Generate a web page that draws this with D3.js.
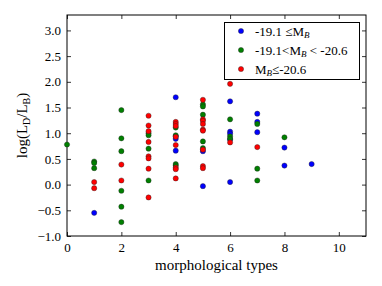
<!DOCTYPE html>
<html><head><meta charset="utf-8">
<script src="https://cdn.jsdelivr.net/npm/d3@7"></script>
<style>body{margin:0;background:#fff}svg{display:block}text{font-family:"Liberation Serif","DejaVu Serif",serif}</style>
</head><body>
<script>
// morphological type, log(LD/LB)
const blueX = [1,4,4,4,4,5,5,6,6,6,6,6,7,7,7,8,8,9];
const blueY = [-0.55,1.70,0.94,0.89,0.66,0.65,-0.03,1.62,1.03,0.99,0.88,0.05,1.38,1.22,1.02,0.72,0.37,0.40];
const greenX = [0,1,1,1,2,2,2,2,2,2,3,3,3,3,4,4,4,4,5,5,5,5,5,6,6,6,7,7,7,8];
const greenY = [0.78,0.45,0.42,0.32,1.45,0.90,0.65,-0.12,-0.43,-0.73,1.00,0.96,0.70,0.08,1.11,0.96,0.40,0.37,1.56,1.52,1.36,0.84,0.71,1.27,0.94,0.89,1.18,0.31,0.08,0.92];
const redX = [1,1,2,2,3,3,3,3,3,3,3,3,4,4,4,4,4,4,4,4,5,5,5,5,5,5,5,5,5,6,6,7];
const redY = [0.05,-0.07,0.39,0.08,1.34,1.15,1.04,0.83,0.55,0.51,0.31,-0.25,1.22,1.18,1.14,0.93,0.77,0.33,0.30,0.12,1.65,1.27,1.24,1.18,1.07,1.05,0.68,0.36,0.32,1.96,0.82,0.73];
const xTicks = [0,2,4,6,8,10];
const yTicks = [-1.0,-0.5,0.0,0.5,1.0,1.5,2.0,2.5,3.0];
const xDomain = [0,11];
const yDomain = [-1.0,3.3];
const seriesNames = ["blue","green","red"];
const seriesColors = ["#0000ff","#008000","#ff0000"];

const W=382,H=286;
const L=67,R=366,T=15,B=236;
const svg=d3.select("body").append("svg").attr("width",W).attr("height",H);
const x=d3.scaleLinear().domain(xDomain).range([L,R]);
const y=d3.scaleLinear().domain(yDomain).range([B,T]);
const fmt=v=>(v<0?"\u2212":"")+Math.abs(v).toFixed(1);

// axes with inward ticks
const gB=svg.append("g").attr("transform",`translate(0,${B})`).call(d3.axisBottom(x).tickValues(xTicks).tickSizeInner(-4).tickSizeOuter(0).tickPadding(7).tickFormat(d3.format("d")));
const gT=svg.append("g").attr("transform",`translate(0,${T})`).call(d3.axisTop(x).tickValues(xTicks).tickSizeInner(-4).tickSizeOuter(0).tickFormat(""));
const gL=svg.append("g").attr("transform",`translate(${L},0)`).call(d3.axisLeft(y).tickValues(yTicks).tickSizeInner(-4).tickSizeOuter(0).tickPadding(6).tickFormat(fmt));
const gR=svg.append("g").attr("transform",`translate(${R},0)`).call(d3.axisRight(y).tickValues(yTicks).tickSizeInner(-4).tickSizeOuter(0).tickFormat(""));
[gB,gT,gL,gR].forEach(g=>{g.select(".domain").remove();g.selectAll("line").attr("stroke","#000").attr("stroke-width",0.8);g.selectAll("text").attr("font-family","Liberation Serif").attr("font-size",13).attr("fill","#000");});
gL.selectAll(".tick text").attr("dy","0.32em");

svg.append("rect").attr("x",L).attr("y",T).attr("width",R-L).attr("height",B-T).attr("fill","none").attr("stroke","#000").attr("stroke-width",1);

const series=[[blueX,blueY],[greenX,greenY],[redX,redY]];
series.forEach((s,i)=>{
  svg.append("g").selectAll("circle").data(s[0].map((v,j)=>[v,s[1][j]])).join("circle")
    .attr("cx",d=>x(d[0])).attr("cy",d=>y(d[1])).attr("r",2.6)
    .attr("fill",seriesColors[i]).attr("stroke","#222").attr("stroke-width",0.4);
});

// legend
const lg=svg.append("g");
lg.append("rect").attr("x",224.5).attr("y",22.5).attr("width",135).attr("height",57).attr("fill","#fff").attr("stroke","#000").attr("stroke-width",1);
const rows=[31,50,69];
rows.forEach((ry,i)=>{
  lg.append("circle").attr("cx",241).attr("cy",ry).attr("r",2.6).attr("fill",seriesColors[i]).attr("stroke","#222").attr("stroke-width",0.4);
});
function legText(ry,parts){
  const t=lg.append("text").attr("x",255).attr("y",ry+4.5).attr("font-size",13).attr("fill","#000");
  parts.forEach(p=>{
    const ts=t.append("tspan").text(p.t);
    if(p.sub){ts.attr("font-size",9).attr("font-style","italic").attr("dy",2.5);}
    if(p.up){ts.attr("dy",-2.5);}
  });
}
legText(rows[0],[{t:"-19.1 \u2264M"},{t:"B",sub:1}]);
legText(rows[1],[{t:"-19.1<M"},{t:"B",sub:1},{t:" < -20.6",up:1}]);
legText(rows[2],[{t:"M"},{t:"B",sub:1},{t:"\u2264-20.6",up:1}]);

// axis labels
svg.append("text").attr("x",(L+R)/2).attr("y",270).attr("text-anchor","middle").attr("font-size",15).attr("fill","#000").text("morphological types");
const yl=svg.append("text").attr("transform",`translate(27,${(T+B)/2}) rotate(-90)`).attr("text-anchor","middle").attr("font-size",15).attr("fill","#000");
yl.append("tspan").text("log(L");
yl.append("tspan").attr("font-size",10).attr("dy",3).text("D");
yl.append("tspan").attr("dy",-3).text("/L");
yl.append("tspan").attr("font-size",10).attr("dy",3).text("B");
yl.append("tspan").attr("dy",-3).text(")");
</script>
</body></html>
